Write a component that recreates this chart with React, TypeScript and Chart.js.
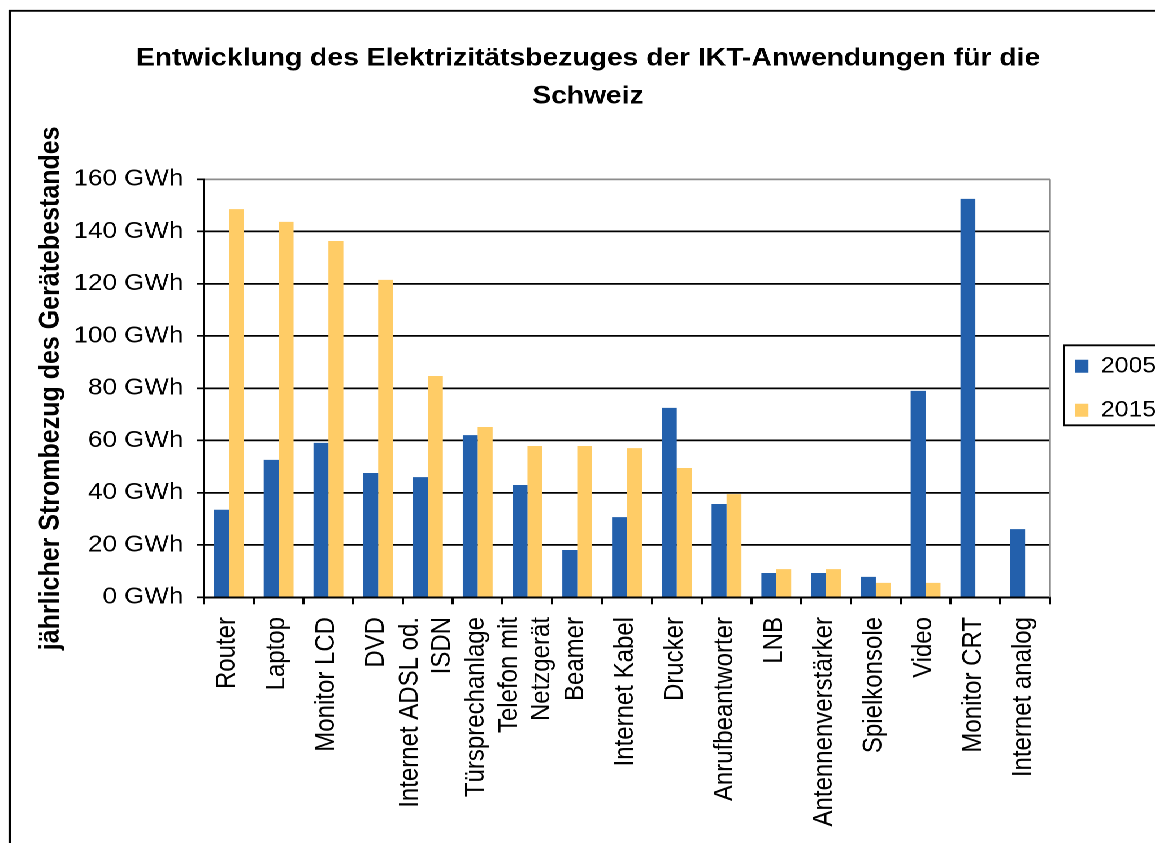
import React, { useEffect, useRef } from 'react';
import { Chart, registerables } from 'chart.js';

Chart.register(...registerables);

// ---------- data ----------
const categories: (string | string[])[] = [
  'Router',
  'Laptop',
  'Monitor LCD',
  'DVD',
  ['Internet ADSL od.', 'ISDN'],
  'Türsprechanlage',
  ['Telefon mit', 'Netzgerät'],
  'Beamer',
  'Internet Kabel',
  'Drucker',
  'Anrufbeantworter',
  'LNB',
  'Antennenverstärker',
  'Spielkonsole',
  'Video',
  'Monitor CRT',
  'Internet analog',
];
const seriesLabels = ['2005', '2015'];
const values2005 = [33.5, 52.6, 59.1, 47.6, 46.0, 62.1, 43.0, 18.1, 30.7, 72.5, 35.7, 9.3, 9.3, 7.8, 79.0, 152.5, 26.1];
const values2015 = [148.6, 143.7, 136.4, 121.5, 84.7, 65.2, 57.9, 57.9, 57.1, 49.5, 39.5, 10.8, 10.8, 5.5, 5.5, 0, 0];
const yTickValues = [0, 20, 40, 60, 80, 100, 120, 140, 160];
const yTickLabels = ['0 GWh', '20 GWh', '40 GWh', '60 GWh', '80 GWh', '100 GWh', '120 GWh', '140 GWh', '160 GWh'];
const titleLines = ['Entwicklung des Elektrizitätsbezuges der IKT-Anwendungen für die', 'Schweiz'];
const yTitle = 'jährlicher Strombezug des Gerätebestandes';

// ---------- styling ----------
const W = 1022;
const H = 843;
const SX = 1155 / W;
const FONT = "'Liberation Sans', Arial, Helvetica, sans-serif";
const BLUE = '#2360AC';
const YELLOW = '#FFCC66';

export default function App() {
  const ref = useRef<HTMLCanvasElement>(null);

  useEffect(() => {
    const decor = {
      id: 'decor',
      afterDraw(chart: any) {
        const { ctx, chartArea: ca, scales } = chart;
        ctx.save();
        // right border of plot area
        ctx.strokeStyle = '#8c8c8c';
        ctx.lineWidth = 1.5;
        ctx.beginPath();
        ctx.moveTo(ca.right, ca.top);
        ctx.lineTo(ca.right, ca.bottom);
        ctx.stroke();
        // outer frame
        ctx.strokeStyle = '#000';
        ctx.lineWidth = 1.8;
        ctx.beginPath();
        ctx.moveTo(8.85, H + 5);
        ctx.lineTo(8.85, 10.8);
        ctx.lineTo(W + 5, 10.8);
        ctx.stroke();
        // legend border
        const hb = chart.legend && chart.legend.legendHitBoxes;
        if (hb && hb.length) {
          const first = hb[0];
          const last = hb[hb.length - 1];
          const l = first.left - 9.7;
          const t = first.top - 10;
          const b = last.top + last.height + 4;
          ctx.lineWidth = 1.8;
          ctx.strokeStyle = '#000';
          ctx.beginPath();
          ctx.moveTo(W + 5, t);
          ctx.lineTo(l, t);
          ctx.lineTo(l, b);
          ctx.lineTo(W + 5, b);
          ctx.stroke();
        }
        // category labels (rotated, wrapped)
        ctx.fillStyle = '#000';
        ctx.font = `24px ${FONT}`;
        ctx.textAlign = 'right';
        ctx.textBaseline = 'middle';
        categories.forEach((c, i) => {
          const lines = Array.isArray(c) ? c : [c];
          const x = scales.x.getPixelForValue(i);
          lines.forEach((ln, j) => {
            const off = (j - (lines.length - 1) / 2) * 28.3 - 1.5;
            ctx.save();
            ctx.translate(x + off, 617);
            ctx.rotate(-Math.PI / 2);
            ctx.fillText(ln, 0, 0);
            ctx.restore();
          });
        });
        ctx.restore();
      },
    };

    const chart = new Chart(ref.current as HTMLCanvasElement, {
      type: 'bar',
      data: {
        labels: categories as any,
        datasets: [
          { label: seriesLabels[0], data: values2005, backgroundColor: BLUE, borderWidth: 0 },
          { label: seriesLabels[1], data: values2015, backgroundColor: YELLOW, borderWidth: 0 },
        ],
      },
      options: {
        responsive: false,
        animation: false,
        devicePixelRatio: 2,
        layout: { padding: { left: 18.6, right: 0, top: 0, bottom: 0 } },
        datasets: { bar: { categoryPercentage: 0.6, barPercentage: 1.0 } },
        plugins: {
          tooltip: { enabled: false },
          title: {
            display: true,
            text: titleLines,
            color: '#000',
            font: { family: FONT, size: 25, weight: 'bold', lineHeight: 1.52 },
            padding: { top: 39.5, bottom: 63.8 },
          },
          legend: {
            display: true,
            position: 'right',
            fullSize: false,
            maxWidth: 92.9,
            labels: {
              color: '#000',
              font: { family: FONT, size: 22 },
              boxWidth: 12,
              boxHeight: 13,
              padding: 22,
            },
          },
        },
        scales: {
          x: {
            type: 'category',
            offset: true,
            afterFit: (s: any) => {
              s.height = 245.7;
            },
            grid: {
              display: true,
              offset: true,
              drawOnChartArea: false,
              drawTicks: true,
              tickLength: 7,
              color: '#000',
              lineWidth: 2,
            },
            border: { display: true, color: '#000', width: 2 },
            ticks: { display: false },
          },
          y: {
            min: 0,
            max: 160,
            afterBuildTicks: (s: any) => {
              s.ticks = yTickValues.map((v) => ({ value: v }));
            },
            afterFit: (s: any) => {
              s.width = 161.9;
            },
            grid: {
              color: (ctx: any) => (ctx.tick && ctx.tick.value === 160 ? '#8c8c8c' : '#000'),
              tickColor: '#000',
              lineWidth: 1.7,
              drawTicks: true,
              tickLength: 6.2,
            },
            border: { display: true, color: '#000', width: 2 },
            ticks: {
              color: '#000',
              font: { family: FONT, size: 23 },
              padding: 12,
              callback: (_v: any, i: number) => yTickLabels[i],
            },
            title: {
              display: true,
              text: yTitle,
              color: '#000',
              font: { family: FONT, size: 25, weight: 'bold', lineHeight: 1.2 },
              padding: { top: 11.4, bottom: 0 },
            },
          },
        },
      },
      plugins: [decor],
    } as any);

    return () => chart.destroy();
  }, []);

  return (
    <div
      style={{
        position: 'absolute',
        left: 0,
        top: 0,
        width: W,
        height: H,
        transform: `scaleX(${SX})`,
        transformOrigin: '0 0',
        background: '#fff',
        overflow: 'hidden',
      }}
    >
      <canvas ref={ref} width={W} height={H} style={{ display: 'block', width: W, height: H }} />
    </div>
  );
}
